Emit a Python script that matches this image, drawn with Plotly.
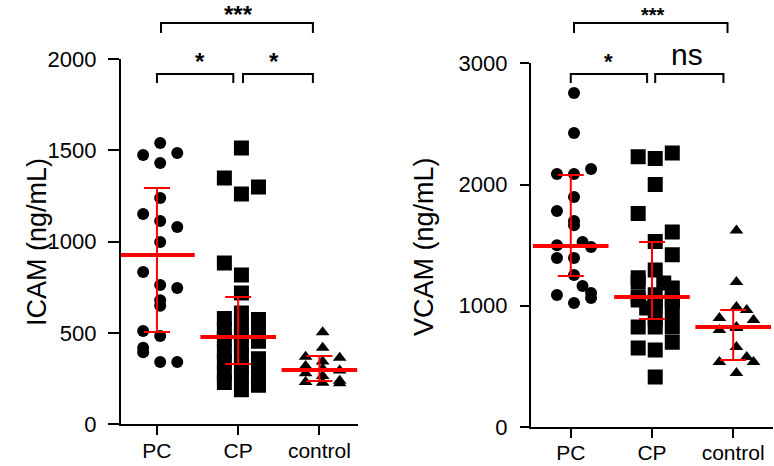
import plotly.graph_objects as go

# ---------------- data ----------------
categories = ["PC", "CP", "control"]

icam_pc = [1540, 1475, 1486, 1431, 1239, 1152, 1114, 1081, 999, 834, 763, 747,
           680, 650, 511, 484, 420, 395, 342, 342]
icam_pc_col = [0, -1, 1, 0, 0, -1, 0, 1, 0, -1, 0, 1, 0, 0, -1, 0, -1, -1, 0, 1]

icam_cp = [1513, 1349, 1299, 1261, 884, 818, 720, 610, 580, 575, 545, 520, 505,
           490, 470, 455, 430, 400, 380, 360, 340, 320, 300, 280, 260, 245, 230,
           215, 190]
icam_cp_col = [0, -1, 1, 0, -1, 0, 0, 0, -1, 1, 0, -1, 1, 0, -1, 1, 0, -1, 0,
               1, -1, 0, 1, -1, 0, 1, -1, 1, 0]

icam_ctrl = [505, 420, 370, 365, 345, 320, 305, 295, 280, 265, 240, 232, 228, 225]
icam_ctrl_col = [0, 0, -1, 1, 0, -1, 0, 1, -1, 0, 1, -1, 0, 1]

vcam_pc = [2755, 2425, 2128, 2087, 2087, 1897, 1782, 1700, 1665, 1526, 1500,
           1485, 1394, 1394, 1254, 1163, 1105, 1089, 1064, 1023]
vcam_pc_col = [0, 0, 1, -1, 0, 0, -1, 0, 0, 0.5, -1, 1, -1, 0, 0, 0.5, 1, -1, 1, 0]

vcam_cp = [2260, 2230, 2215, 2000, 1760, 1609, 1530, 1420, 1295, 1230, 1196,
           1188, 1147, 1090, 1072, 1060, 1048, 1040, 1031, 1000, 982, 940, 890,
           825, 825, 825, 700, 652, 635, 412]
vcam_cp_col = [1, -1, 0, 0, -1, 1, 0, 1, 0, -1, -1, 0.5, 1, 0, -1, 1, -1, 1, 0,
               0, -0.5, 1, 0, -1, 0, 1, 1, -1, 0, 0]

vcam_ctrl = [1620, 1196, 990, 965, 899, 883, 825, 816, 800, 660, 577, 536, 536, 445]
vcam_ctrl_col = [0, 0, 0, 0.6, -1, 1, 0, 0, -1, 0, 0.6, -1, 1, 0]

# central line and whiskers (red)
icam_center = [928, 479, 298]
icam_low = [506, 331, 238]
icam_high = [1294, 698, 375]
vcam_center = [1493, 1072, 825]
vcam_low = [1246, 891, 553]
vcam_high = [2079, 1526, 965]

icam_ticks = [0, 500, 1000, 1500, 2000]
vcam_ticks = [0, 1000, 2000, 3000]

# significance brackets: (from group, to group, label)
icam_sig = [(0, 2, "***"), (0, 1, "*"), (1, 2, "*")]
vcam_sig = [(0, 2, "***"), (0, 1, "*"), (1, 2, "ns")]

# ---------------- styling ----------------
FONT = "Liberation Sans, Arial, sans-serif"
symbols = ["circle", "square", "triangle-up"]
sizes = [12, 15, 12]
JIT0, JIT = 0.04, 0.21

fig = go.Figure()


def add_panel(groups, cols, center, low, high, xa, ya):
    for i, (vals, cc) in enumerate(zip(groups, cols)):
        fig.add_trace(go.Scatter(
            x=[i + JIT0 + c * JIT for c in cc], y=vals, mode="markers",
            xaxis=xa, yaxis=ya, hoverinfo="skip",
            marker=dict(symbol=symbols[i], size=sizes[i], color="black",
                        line=dict(width=0))))
    fig.add_trace(go.Scatter(
        x=list(range(len(center))), y=center, mode="markers",
        xaxis=xa, yaxis=ya, hoverinfo="skip",
        marker=dict(symbol="line-ew-open", size=54, color="#ff0000",
                    line=dict(color="#ff0000", width=4)),
        error_y=dict(type="data", symmetric=False,
                     array=[h - c for h, c in zip(high, center)],
                     arrayminus=[c - l for c, l in zip(center, low)],
                     color="#ff0000", thickness=2, width=13)))


add_panel([icam_pc, icam_cp, icam_ctrl], [icam_pc_col, icam_cp_col, icam_ctrl_col],
          icam_center, icam_low, icam_high, "x", "y")
add_panel([vcam_pc, vcam_cp, vcam_ctrl], [vcam_pc_col, vcam_cp_col, vcam_ctrl_col],
          vcam_center, vcam_low, vcam_high, "x2", "y2")

axis_common = dict(showgrid=False, zeroline=False, showline=True, linewidth=2,
                   linecolor="black", ticks="outside", tickwidth=2,
                   tickcolor="black", automargin=False)

fig.update_layout(
    width=774, height=466,
    margin=dict(l=0, r=0, t=0, b=0),
    paper_bgcolor="white", plot_bgcolor="white",
    showlegend=False,
    font=dict(family=FONT, color="black"),
    xaxis=dict(domain=[0.1563, 0.4625], range=[-0.443, 2.475], anchor="y",
               tickvals=[0, 1, 2], ticktext=categories, ticklen=9,
               ticklabelstandoff=-3,
               tickfont=dict(size=21, family=FONT), **axis_common),
    yaxis=dict(domain=[0.0891, 0.8734], range=[0, 2000], anchor="x",
               tickvals=icam_ticks, ticklen=11, ticklabelstandoff=7,
               tickfont=dict(size=22, family=FONT), **axis_common),
    xaxis2=dict(domain=[0.6860, 0.9987], range=[-0.49, 2.49], anchor="y2",
                tickvals=[0, 1, 2], ticktext=categories, ticklen=9,
                ticklabelstandoff=-3,
                tickfont=dict(size=21, family=FONT), **axis_common),
    yaxis2=dict(domain=[0.0837, 0.8642], range=[0, 3000], anchor="x2",
                tickvals=vcam_ticks, ticklen=9, ticklabelstandoff=8,
                tickfont=dict(size=22, family=FONT), **axis_common),
)


# brackets: data-unit heights, drawn in the axis' x units and y-domain fraction
def brackets(sig, xref, yref, ymax, levels, legs, xspans, label_y, label_x,
             label_size):
    for (a, b, lab), lvl, leg, (x0, x1), ly, lx, fs in zip(
            sig, levels, legs, xspans, label_y, label_x, label_size):
        yt, yl = lvl / ymax, (lvl - leg) / ymax
        fig.add_shape(type="path", xref=xref, yref=yref + " domain",
                      path=f"M {x0},{yl} L {x0},{yt} L {x1},{yt} L {x1},{yl}",
                      line=dict(color="black", width=2))
        fig.add_annotation(x=lx, y=ly / ymax, xref=xref, yref=yref + " domain",
                           text=lab if lab == "ns" else f"<b>{lab}</b>",
                           showarrow=False, xanchor="center", yanchor="middle",
                           font=dict(size=fs, family=FONT, color="black"))


brackets(icam_sig, "x", "y", 2000,
         levels=[2197, 1918, 1918], legs=[55, 50, 50],
         xspans=[(0.05, 1.92), (0.0, 0.94), (1.06, 1.92)],
         label_y=[2246, 1989, 1989], label_x=[1.01, 0.53, 1.44],
         label_size=[24, 24, 24])
brackets(vcam_sig, "x2", "y2", 3000,
         levels=[3333, 2912, 2912], legs=[83, 74, 74],
         xspans=[(0.04, 1.93), (0.0, 0.94), (1.04, 1.88)],
         label_y=[3400, 3011, 3069], label_x=[1.01, 0.47, 1.43],
         label_size=[20, 22, 30])

# axis titles
fig.add_annotation(x=20 / 774, y=(466 - 242) / 466, xref="paper", yref="paper",
                   text="ICAM (ng/mL)", textangle=-90, showarrow=False,
                   font=dict(size=27, family=FONT, color="black"))
fig.add_annotation(x=424 / 774, y=(466 - 247) / 466, xref="paper", yref="paper",
                   text="VCAM (ng/mL)", textangle=-90, showarrow=False,
                   font=dict(size=27, family=FONT, color="black"))

fig.write_html("out.html",
               config={"displayModeBar": False},
               post_script="document.body.style.margin='0';"
                           "document.body.style.padding='0';")
